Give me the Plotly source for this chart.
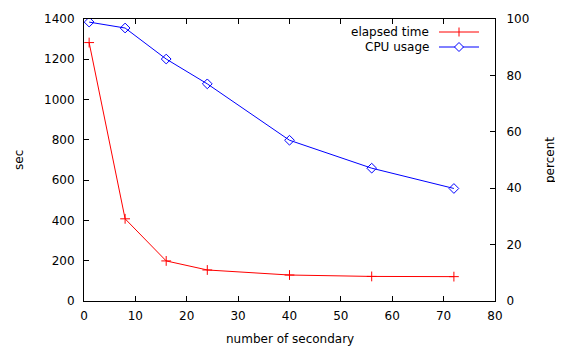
import plotly.graph_objects as go

secondaries = [1, 8, 16, 24, 40, 56, 72]
elapsed_time = [1283, 408, 199, 154, 129, 122, 121]
cpu_usage = [98.9, 96.8, 85.8, 77.0, 57.0, 47.1, 39.9]

FONT = "DejaVu Sans"
fig = go.Figure()
fig.add_trace(go.Scatter(x=secondaries, y=elapsed_time, mode="lines+markers",
                         name="elapsed time", line=dict(color="red", width=1),
                         marker=dict(symbol="cross-thin-open", size=7, color="red",
                                     line=dict(color="red", width=1))))
fig.add_trace(go.Scatter(x=secondaries, y=cpu_usage, mode="lines+markers",
                         name="CPU usage", yaxis="y2", line=dict(color="blue", width=1),
                         marker=dict(symbol="diamond-open", size=7.5, color="blue",
                                     line=dict(color="blue", width=1))))

axcommon = dict(showgrid=False, zeroline=False, showline=True, linecolor="black",
                linewidth=1, ticks="inside", ticklen=5, tickcolor="black", automargin=False,
                tickfont=dict(family=FONT, size=12, color="black"))
fig.update_layout(
    width=555, height=338, plot_bgcolor="white", paper_bgcolor="white",
    margin=dict(l=76, r=68, t=11, b=45), showlegend=False,
    font=dict(family=FONT, size=12, color="black"),
    xaxis=dict(range=[0, 80], dtick=10, mirror="ticks", ticklabelstandoff=4, **axcommon),
    yaxis=dict(range=[0, 1400], dtick=200, ticklabelstandoff=6, **axcommon),
    yaxis2=dict(range=[0, 100], dtick=20, overlaying="y", side="right",
                ticklabelstandoff=8, **axcommon),
    annotations=[
        dict(text="number of secondary", xref="paper", yref="paper", x=0.5, y=0,
             yshift=-38, xanchor="center", yanchor="middle", showarrow=False,
             font=dict(family=FONT, size=12)),
        dict(text="sec", xref="paper", yref="paper", x=0, y=0.5, xshift=-65,
             xanchor="center", yanchor="middle",
             textangle=-90, showarrow=False, font=dict(family=FONT, size=12)),
        dict(text="percent", xref="paper", yref="paper", x=1, y=0.5, xshift=55,
             xanchor="center", yanchor="middle",
             textangle=-90, showarrow=False, font=dict(family=FONT, size=12)),
        dict(text="elapsed time", xref="paper", yref="paper", x=(431-84)/411, y=(301-32)/282,
             xanchor="right", yanchor="middle", showarrow=False, font=dict(family=FONT, size=12)),
        dict(text="CPU usage", xref="paper", yref="paper", x=(431-84)/411, y=(301-47)/282,
             xanchor="right", yanchor="middle", showarrow=False, font=dict(family=FONT, size=12)),
    ],
)

def px(x): return (x-84)/411
def py(y): return (301-y)/282
shapes = [
    dict(type="line", xref="paper", yref="paper", x0=px(439), x1=px(479), y0=py(32), y1=py(32),
         line=dict(color="red", width=1)),
    dict(type="line", xref="paper", yref="paper", x0=px(459), x1=px(459), y0=py(27.5), y1=py(36.5),
         line=dict(color="red", width=1)),
    dict(type="line", xref="paper", yref="paper", x0=px(439), x1=px(479), y0=py(47), y1=py(47),
         line=dict(color="blue", width=1)),
    dict(type="path", xref="paper", yref="paper",
         path=f"M {px(459)},{py(42.5)} L {px(463.5)},{py(47)} L {px(459)},{py(51.5)} L {px(454.5)},{py(47)} Z",
         line=dict(color="blue", width=1), fillcolor="white"),
]
fig.update_layout(shapes=shapes)
fig.write_html("out.html")
